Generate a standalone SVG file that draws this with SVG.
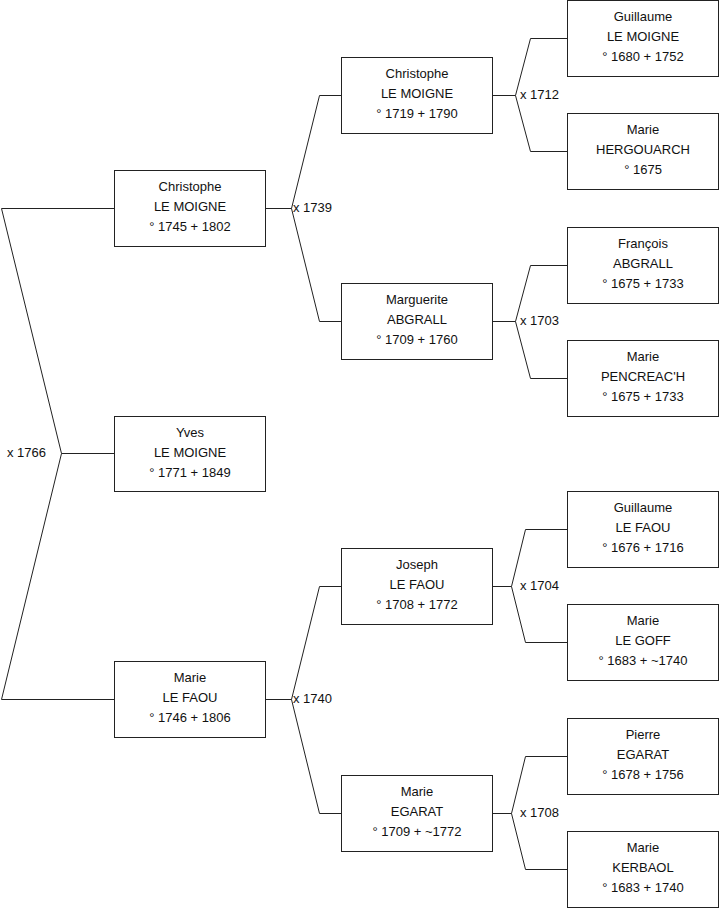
<svg xmlns="http://www.w3.org/2000/svg" width="719" height="908" viewBox="0 0 719 908">
<style>
text{font-family:"Liberation Sans",Arial,sans-serif;font-size:13px;fill:#111}
.n rect{fill:#fff;stroke:#222;stroke-width:1}
.n text{text-anchor:middle}
.c path{fill:none;stroke:#222;stroke-width:1}
</style>
<rect width="719" height="908" fill="#fff"/>
<g class="c" id="connectors">
<path d="M114.5 453.5H61.5L1.5 208.5H114.5M61.5 453.5L1.5 699.5H114.5"/>
<path d="M265.5 208.5H291.5L319.5 95.5H341.5M291.5 208.5L319.5 321.5H341.5"/>
<path d="M265.5 699.5H291.5L319.5 586.5H341.5M291.5 699.5L319.5 813.5H341.5"/>
<path d="M492.5 95.5H515.5L530.5 38.5H567.5M515.5 95.5L530.5 151.5H567.5"/>
<path d="M492.5 321.5H515.5L530.5 265.5H567.5M515.5 321.5L530.5 378.5H567.5"/>
<path d="M492.5 586.5H511.5L525.5 529.5H567.5M511.5 586.5L525.5 642.5H567.5"/>
<path d="M492.5 813.5H511.5L525.5 756.5H567.5M511.5 813.5L525.5 869.5H567.5"/>
<text x="7" y="457">x 1766</text>
<text x="293" y="212">x 1739</text>
<text x="293" y="703">x 1740</text>
<text x="520" y="99">x 1712</text>
<text x="520" y="325">x 1703</text>
<text x="520" y="590">x 1704</text>
<text x="520" y="817">x 1708</text>
</g>
<g class="n" id="yves"><rect x="114.5" y="416.5" width="151" height="75"/><text x="190" y="437">Yves</text><text x="190" y="457">LE MOIGNE</text><text x="190" y="477">° 1771 + 1849</text></g>
<g class="n" id="christophe2"><rect x="114.5" y="170.5" width="151" height="76"/><text x="190" y="191">Christophe</text><text x="190" y="211">LE MOIGNE</text><text x="190" y="231">° 1745 + 1802</text></g>
<g class="n" id="marie_lefaou"><rect x="114.5" y="661.5" width="151" height="76"/><text x="190" y="682">Marie</text><text x="190" y="702">LE FAOU</text><text x="190" y="722">° 1746 + 1806</text></g>
<g class="n" id="christophe3"><rect x="341.5" y="57.5" width="151" height="76"/><text x="417" y="78">Christophe</text><text x="417" y="98">LE MOIGNE</text><text x="417" y="118">° 1719 + 1790</text></g>
<g class="n" id="marguerite"><rect x="341.5" y="283.5" width="151" height="76"/><text x="417" y="304">Marguerite</text><text x="417" y="324">ABGRALL</text><text x="417" y="344">° 1709 + 1760</text></g>
<g class="n" id="joseph"><rect x="341.5" y="548.5" width="151" height="76"/><text x="417" y="569">Joseph</text><text x="417" y="589">LE FAOU</text><text x="417" y="609">° 1708 + 1772</text></g>
<g class="n" id="marie_egarat"><rect x="341.5" y="775.5" width="151" height="76"/><text x="417" y="796">Marie</text><text x="417" y="816">EGARAT</text><text x="417" y="836">° 1709 + ~1772</text></g>
<g class="n" id="guillaume_lemoigne"><rect x="567.5" y="0.5" width="151" height="76"/><text x="643" y="21">Guillaume</text><text x="643" y="41">LE MOIGNE</text><text x="643" y="61">° 1680 + 1752</text></g>
<g class="n" id="marie_hergouarch"><rect x="567.5" y="113.5" width="151" height="76"/><text x="643" y="134">Marie</text><text x="643" y="154">HERGOUARCH</text><text x="643" y="174">° 1675</text></g>
<g class="n" id="francois"><rect x="567.5" y="227.5" width="151" height="76"/><text x="643" y="248">François</text><text x="643" y="268">ABGRALL</text><text x="643" y="288">° 1675 + 1733</text></g>
<g class="n" id="marie_pencreach"><rect x="567.5" y="340.5" width="151" height="76"/><text x="643" y="361">Marie</text><text x="643" y="381">PENCREAC'H</text><text x="643" y="401">° 1675 + 1733</text></g>
<g class="n" id="guillaume_lefaou"><rect x="567.5" y="491.5" width="151" height="76"/><text x="643" y="512">Guillaume</text><text x="643" y="532">LE FAOU</text><text x="643" y="552">° 1676 + 1716</text></g>
<g class="n" id="marie_legoff"><rect x="567.5" y="604.5" width="151" height="76"/><text x="643" y="625">Marie</text><text x="643" y="645">LE GOFF</text><text x="643" y="665">° 1683 + ~1740</text></g>
<g class="n" id="pierre"><rect x="567.5" y="718.5" width="151" height="76"/><text x="643" y="739">Pierre</text><text x="643" y="759">EGARAT</text><text x="643" y="779">° 1678 + 1756</text></g>
<g class="n" id="marie_kerbaol"><rect x="567.5" y="831.5" width="151" height="76"/><text x="643" y="852">Marie</text><text x="643" y="872">KERBAOL</text><text x="643" y="892">° 1683 + 1740</text></g>
</svg>
